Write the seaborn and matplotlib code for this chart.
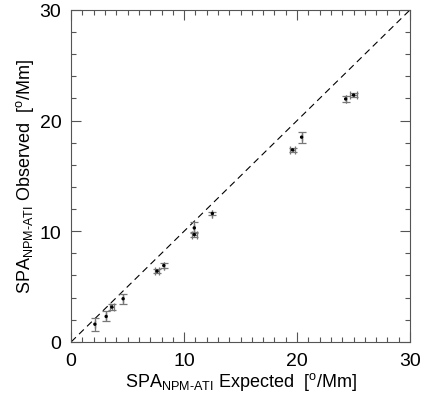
import matplotlib
matplotlib.use("Agg")
import matplotlib.pyplot as plt
import seaborn as sns
import pandas as pd
from matplotlib.ticker import MultipleLocator

expected = [2.1, 3.1, 3.6, 4.6, 7.6, 8.2, 10.9, 10.9, 12.5, 19.6, 20.4, 24.3, 25.0]
observed = [1.6, 2.3, 3.15, 3.9, 6.4, 6.9, 10.3, 9.7, 11.6, 17.35, 18.5, 21.95, 22.3]
obs_err = [0.6, 0.45, 0.25, 0.45, 0.15, 0.2, 0.5, 0.2, 0.15, 0.2, 0.5, 0.3, 0.2]
exp_err = [0.0, 0.0, 0.2, 0.0, 0.2, 0.0, 0.0, 0.2, 0.0, 0.2, 0.0, 0.0, 0.3]
diag = [0, 30]
ticks = [0, 10, 20, 30]

sns.set_style("ticks")
plt.rcParams['font.family'] = ['Liberation Sans', 'DejaVu Sans']
plt.rcParams['mathtext.fontset'] = 'custom'
plt.rcParams['mathtext.rm'] = 'Liberation Sans'
plt.rcParams['mathtext.it'] = 'Liberation Sans'
plt.rcParams['text.color'] = 'black'
plt.rcParams['axes.labelcolor'] = 'black'
plt.rcParams['xtick.labelcolor'] = 'black'
plt.rcParams['ytick.labelcolor'] = 'black'

df = pd.DataFrame({"expected": expected, "observed": observed})

fig = plt.figure(figsize=(4.21, 4.02), dpi=100)
ax = fig.add_axes([0.169, 0.147, 0.805, 0.826])

sns.lineplot(x=diag, y=diag, ax=ax, color="black", lw=0.8, linestyle=(0, (6, 4)))
ax.errorbar(expected, observed, yerr=obs_err, xerr=exp_err, fmt="none",
            ecolor="#777777", elinewidth=0.9, capsize=3, capthick=0.9)
sns.scatterplot(data=df, x="expected", y="observed", ax=ax, color="black",
                s=6, marker="o", edgecolor="none", zorder=5)

ax.set_xlim(0, 30)
ax.set_ylim(0, 30)
ax.set_xticks(ticks)
ax.set_yticks(ticks)
ax.xaxis.set_minor_locator(MultipleLocator(1))
ax.yaxis.set_minor_locator(MultipleLocator(2))
ax.tick_params(which="both", direction="in", top=True, right=True,
               labelsize=14, color="#555555", width=0.8)
ax.tick_params(which="major", length=7, pad=7)
ax.tick_params(which="minor", length=3.5)
for s in ax.spines.values():
    s.set_linewidth(0.8)
    s.set_color("#555555")

ax.set_xlabel(r"SPA$_{\mathrm{NPM\text{-}ATI}}$ Expected  [$^{\mathrm{o}}$/Mm]", fontsize=13, labelpad=1)
ax.set_ylabel(r"SPA$_{\mathrm{NPM\text{-}ATI}}$ Observed  [$^{\mathrm{o}}$/Mm]", fontsize=13, labelpad=3)

fig.savefig("out.png", dpi=100)
